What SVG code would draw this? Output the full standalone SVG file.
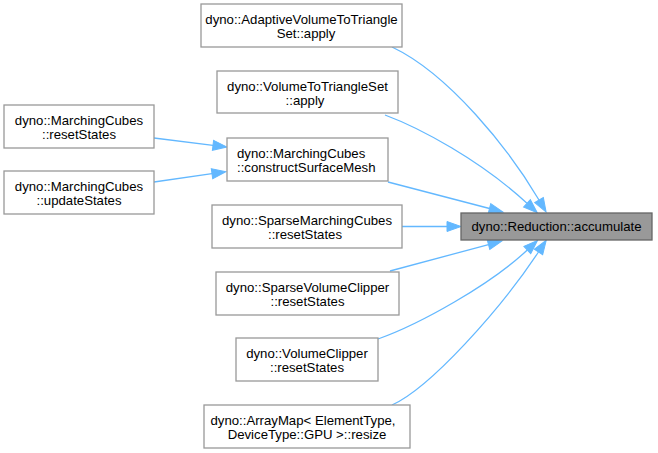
<svg xmlns="http://www.w3.org/2000/svg" width="658" height="453" viewBox="0 0 658 453">
<style>
.n rect{fill:#ffffff;stroke:#999999;stroke-width:1.3}
.hl rect{fill:#999999;stroke:#666666;stroke-width:1.3}
text{font-family:"Liberation Sans",Arial,sans-serif;font-size:13.2px;fill:#000000;text-anchor:middle}
.e path{fill:none;stroke:#63b8ff;stroke-width:1.3;marker-end:url(#ah)}
</style>
<defs>
<marker id="ah" markerUnits="userSpaceOnUse" markerWidth="16" markerHeight="12" refX="0" refY="5" orient="auto" viewBox="0 0 16 10" overflow="visible">
<path d="M0,0 L14,5 L0,10 z" fill="#63b8ff" stroke="#63b8ff" stroke-width="1"/>
</marker>
</defs>
<rect width="658" height="453" fill="#ffffff"/>
<g id="connectors" class="e">
<path d="M154,138 L213,145.3"/>
<path d="M154,182 L212,173.7"/>
<path d="M392,47 C449,74 509,149 539,200"/>
<path d="M385,115 C420,128 480,160 527,203.3"/>
<path d="M388,182 L489.5,208.5"/>
<path d="M402,226.5 L447,226.5"/>
<path d="M390,271 L488.5,244.6"/>
<path d="M378,339 C420,324 490,285 527.3,250"/>
<path d="M392,405 C430,388 500,310 538.5,252"/>
</g>
<g id="node-reduction" class="hl">
<rect x="461" y="213" width="191" height="27"/>
<text x="556.5" y="231">dyno::Reduction::accumulate</text>
</g>
<g id="node-adaptive" class="n">
<rect x="201" y="4" width="201" height="43"/>
<text x="301.5" y="24">dyno::AdaptiveVolumeToTriangle</text>
<text x="306" y="38">Set::apply</text>
</g>
<g id="node-vtts" class="n">
<rect x="217" y="71" width="181" height="42"/>
<text x="307.5" y="91">dyno::VolumeToTriangleSet</text>
<text x="305" y="105">::apply</text>
</g>
<g id="node-mc-reset" class="n">
<rect x="4" y="105" width="150" height="43"/>
<text x="79" y="125">dyno::MarchingCubes</text>
<text x="79" y="139">::resetStates</text>
</g>
<g id="node-mc-update" class="n">
<rect x="4" y="171" width="150" height="43"/>
<text x="79" y="191">dyno::MarchingCubes</text>
<text x="79" y="205">::updateStates</text>
</g>
<g id="node-mc-construct" class="n">
<rect x="227" y="138" width="161" height="43"/>
<text x="237" y="158" style="text-anchor:start">dyno::MarchingCubes</text>
<text x="237" y="172" style="text-anchor:start">::constructSurfaceMesh</text>
</g>
<g id="node-smc" class="n">
<rect x="212" y="205" width="190" height="43"/>
<text x="307" y="225">dyno::SparseMarchingCubes</text>
<text x="305" y="239">::resetStates</text>
</g>
<g id="node-svc" class="n">
<rect x="216" y="272" width="183" height="43"/>
<text x="307.5" y="292">dyno::SparseVolumeClipper</text>
<text x="307.5" y="306">::resetStates</text>
</g>
<g id="node-vc" class="n">
<rect x="236" y="338" width="142" height="43"/>
<text x="307" y="358">dyno::VolumeClipper</text>
<text x="307" y="372">::resetStates</text>
</g>
<g id="node-arraymap" class="n">
<rect x="204" y="405" width="206" height="43"/>
<text x="303" y="425">dyno::ArrayMap&lt; ElementType,</text>
<text x="307" y="439">DeviceType::GPU &gt;::resize</text>
</g>
</svg>
